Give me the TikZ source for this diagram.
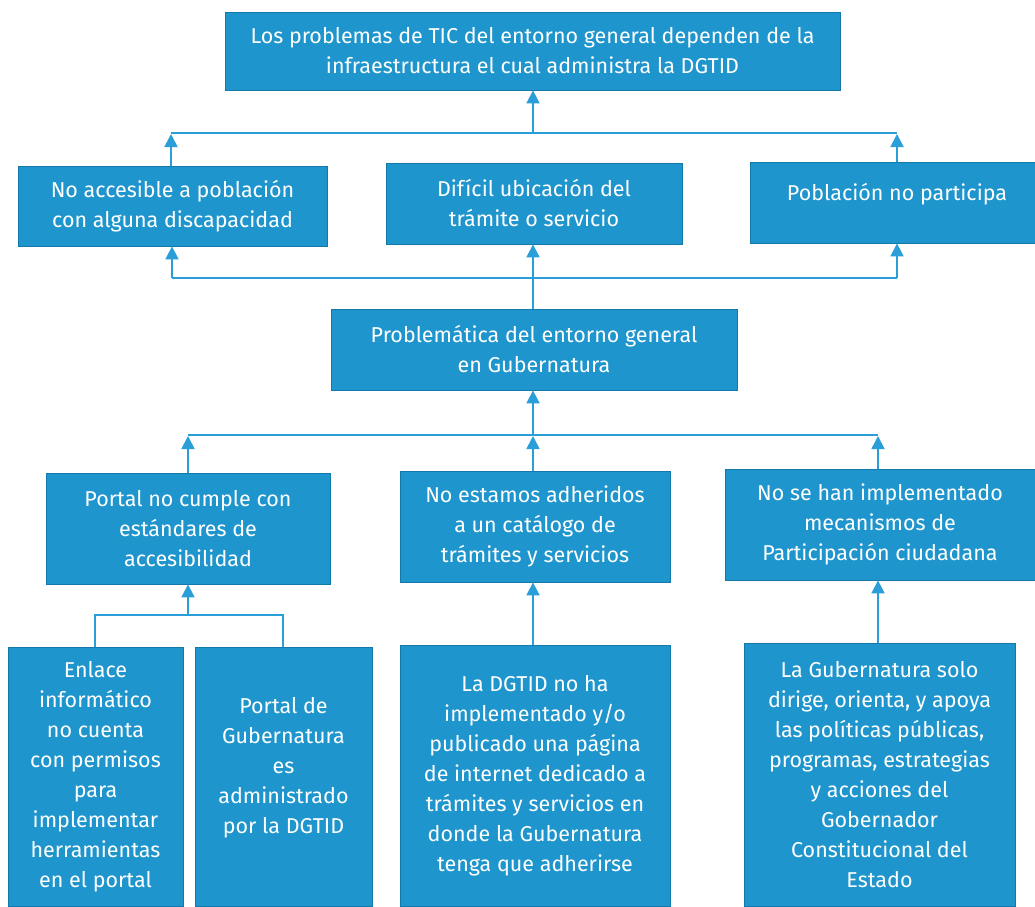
\documentclass[tikz,border=0pt]{standalone}
\usepackage{fontspec}
\setmainfont{Fira Sans}
\usetikzlibrary{arrows.meta}
\definecolor{boxblue}{HTML}{1E95CD}
\definecolor{boxedge}{HTML}{1479AA}
\definecolor{linkblue}{HTML}{2A9ED8}
\tikzset{
  box/.style={fill=boxblue, draw=boxedge, line width=0.8pt, text=white, align=center,
    inner sep=0pt, font=\fontsize{21.5}{30}\selectfont},
  txt/.style={text=white, align=center, inner sep=0pt, font=\fontsize{21.5}{30}\selectfont},
  link/.style={draw=linkblue, line width=1.8pt},
  arr/.style={link, -{Triangle[length=13pt,width=13pt]}}
}
\begin{document}
\begin{tikzpicture}[x=1pt,y=-1pt]
\useasboundingbox (0,0) rectangle (1035,906);
% row 0
\node[box, minimum width=615pt, minimum height=78pt] (top) at (532.5,51)
  {Los problemas de TIC del entorno general dependen de la\\infraestructura el cual administra la DGTID};
% row 1
\node[box, minimum width=309pt, minimum height=80pt] (b1) at (172.5,206)
  {No accesible a población\\con alguna discapacidad};
\node[box, minimum width=296pt, minimum height=81pt] (b2) at (534,203.5)
  {Difícil ubicación del\\trámite o servicio};
\node[box, minimum width=286pt, minimum height=81pt] (b3) at (893,202.5) {};
\node[txt] (b3t) at (897,194) {Población no participa};
% row 2
\node[box, minimum width=406pt, minimum height=81pt] (mid) at (534,349.5)
  {Problemática del entorno general\\en Gubernatura};
% row 3
\node[box, minimum width=284pt, minimum height=111pt] (c1) at (188,528.5)
  {Portal no cumple con\\estándares de\\accesibilidad};
\node[box, minimum width=270pt, minimum height=111pt] (c2) at (535,526.5)
  {No estamos adheridos\\a un catálogo de\\trámites y servicios};
\node[box, minimum width=310pt, minimum height=111pt] (c3) at (880,524.5)
  {No se han implementado\\mecanismos de\\Participación ciudadana};
% row 4
\node[box, minimum width=175pt, minimum height=259pt] (d1) at (95.5,776.5)
  {Enlace\\informático\\no cuenta\\con permisos\\para\\implementar\\herramientas\\en el portal};
\node[box, minimum width=177pt, minimum height=259pt] (d2) at (283.5,776.5) {};
\node[txt] (d2t) at (283.5,768)
  {Portal de\\Gubernatura\\es\\administrado\\por la DGTID};
\node[box, minimum width=270pt, minimum height=261pt] (d3) at (535,775.5)
  {La DGTID no ha\\implementado y/o\\publicado una página\\de internet dedicado a\\trámites y servicios en\\donde la Gubernatura\\tenga que adherirse};
\node[box, minimum width=271pt, minimum height=263pt] (d4) at (879.5,774.5)
  {La Gubernatura solo\\dirige, orienta, y apoya\\las políticas públicas,\\programas, estrategias\\y acciones del\\Gobernador\\Constitucional del\\Estado};
% junction coordinates
\coordinate (j1l) at (171,133);
\coordinate (j1c) at (533,133);
\coordinate (j1r) at (897,133);
\coordinate (j2l) at (172,278);
\coordinate (j2c) at (533,278);
\coordinate (j2r) at (897,278);
\coordinate (j3l) at (188,435);
\coordinate (j3c) at (533,435);
\coordinate (j3r) at (878,435);
\coordinate (j4l) at (95,615);
\coordinate (j4c) at (188,615);
\coordinate (j4r) at (283,615);
% connectors: row 1 to top
\draw[link] (j1l) -- (j1r);
\draw[arr] (j1c) -- (j1c |- top.south);
\draw[arr] (j1l |- b1.north) -- ([yshift=-1pt]j1l);
\draw[arr] (j1r |- b3.north) -- ([yshift=-1pt]j1r);
% mid to row 1
\draw[link] (j2l) -- (j2r);
\draw[link] (j2c |- mid.north) -- (j2c);
\draw[arr] (j2c) -- (j2c |- b2.south);
\draw[arr] (j2l) -- (j2l |- b1.south);
\draw[arr] (j2r) -- (j2r |- b3.south);
% row 3 to mid
\draw[link] (j3l) -- (j3r);
\draw[arr] (j3c) -- (j3c |- mid.south);
\draw[arr] (j3l |- c1.north) -- ([yshift=-1pt]j3l);
\draw[arr] (j3c |- c2.north) -- ([yshift=-1pt]j3c);
\draw[arr] (j3r |- c3.north) -- ([yshift=-1pt]j3r);
% row 4 to row 3
\draw[link] (j4l |- d1.north) -- (j4l) -- (j4r) -- (j4r |- d2.north);
\draw[arr] (j4c) -- (j4c |- c1.south);
\draw[arr] (533,0 |- d3.north) -- (533,0 |- c2.south);
\draw[arr] (878,0 |- d4.north) -- (878,0 |- c3.south);
\end{tikzpicture}
\end{document}
